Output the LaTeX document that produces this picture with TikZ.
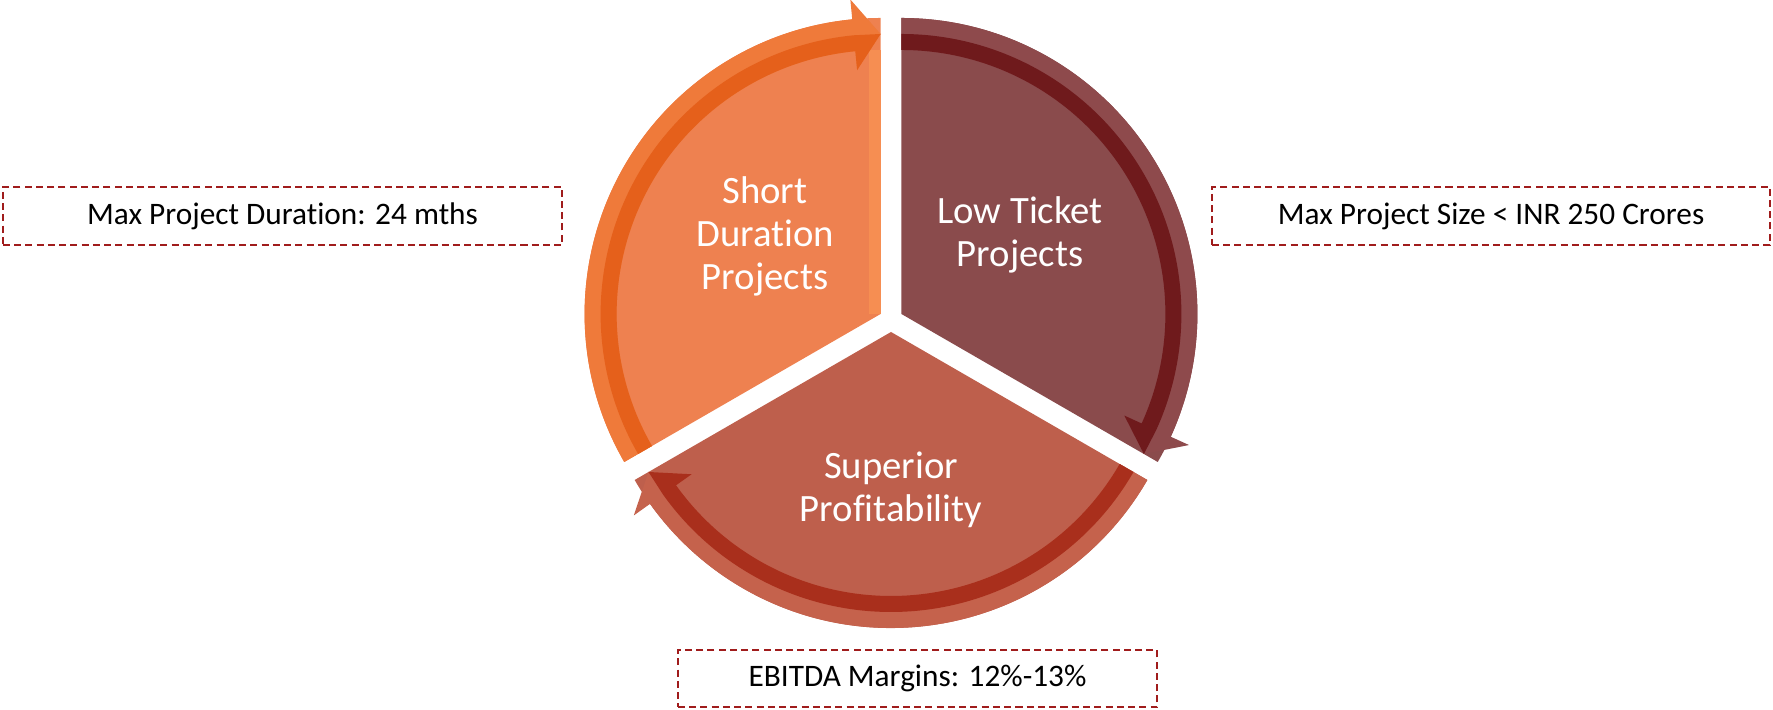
\documentclass[tikz,border=0pt]{standalone}
\usepackage{fontspec}
\setmainfont{Carlito}[Ligatures=NoCommon]

\definecolor{orgslice}{HTML}{EE8150}
\definecolor{orglight}{HTML}{F68E52}
\definecolor{orgarrow}{HTML}{EF7A3A}
\definecolor{orgdark}{HTML}{E5601B}
\definecolor{marslice}{HTML}{8A4B4C}
\definecolor{mararrow}{HTML}{8E4A4C}
\definecolor{mardark}{HTML}{6F1A1C}
\definecolor{botslice}{HTML}{BE5F4C}
\definecolor{botarrow}{HTML}{C5624C}
\definecolor{botdark}{HTML}{A92F1C}
\definecolor{boxred}{HTML}{A01C1C}

\tikzset{
	infobox/.style={draw=boxred, dash pattern=on 2pt off 1.2pt, line width=0.6pt,
		inner sep=0pt, minimum width=5.59cm, minimum height=0.58cm,
		font=\fontsize{8.9}{10.7}\selectfont},
	segtext/.style={text=white, align=center, font=\fontsize{11}{12.2}\selectfont}
}

\begin{document}
\begin{tikzpicture}[x=0.01cm,y=0.01cm]
	\useasboundingbox (0,0) rectangle (1773,710);
	% short duration slice
	\begin{scope}[shift={(880.6,396)}]
	\fill[orgslice] (0,0)--(210:296) arc[start angle=210,end angle=90,radius=296]--cycle;
	\fill[orglight] (-12,0) rectangle (0,264);
	\fill[orgarrow] (210:296) arc[start angle=210,end angle=95.5,radius=296]--(95.5:316)--(90:280)--(95.5:245)--(95.5:264)
	arc[start angle=95.5,end angle=210,radius=264]--cycle;
	\fill[orgdark] (210:280) arc[start angle=210,end angle=95.5,radius=280]--(90:280)--(95.5:245)--(95.5:264)
	arc[start angle=95.5,end angle=210,radius=264]--cycle;
	\end{scope}
	% low ticket slice
	\begin{scope}[shift={(901.4,396)}]
	\fill[marslice] (0,0)--(90:296) arc[start angle=90,end angle=-30,radius=296]--cycle;
	\fill[mararrow] (90:296) arc[start angle=90,end angle=-24.5,radius=296]--(-24.5:316)--(-30:280)--(-24.5:245)--(-24.5:264)
	arc[start angle=-24.5,end angle=90,radius=264]--cycle;
	\fill[mardark] (90:280) arc[start angle=90,end angle=-24.5,radius=280]--(-30:280)--(-24.5:245)--(-24.5:264)
	arc[start angle=-24.5,end angle=90,radius=264]--cycle;
	\end{scope}
	% superior profitability slice
	\begin{scope}[shift={(891,378)}]
	\fill[botslice] (0,0)--(-30:296) arc[start angle=-30,end angle=-150,radius=296]--cycle;
	\fill[botarrow] (-30:296) arc[start angle=-30,end angle=-144.5,radius=296]--(-144.5:316)--(-150:280)--(-144.5:245)--(-144.5:264)
	arc[start angle=-144.5,end angle=-30,radius=264]--cycle;
	\fill[botdark] (-30:280) arc[start angle=-30,end angle=-144.5,radius=280]--(-150:280)--(-144.5:245)--(-144.5:264)
	arc[start angle=-144.5,end angle=-30,radius=264]--cycle;
	\end{scope}

	\node[segtext] (short) at (765,474) {Short\\Duration\\Projects};
	\node[segtext] (lowticket) at (1020,475) {Low Ticket\\Projects};
	\node[segtext] (superior) at (891,220) {Superior\\Profitability};

	\node[infobox] (duration) at (282.5,494) {Max Project Duration: 24 mths};
	\node[infobox, minimum width=5.58cm] (size) at (1491,494) {Max Project Size < INR 250 Crores};
	\node[infobox, minimum width=4.79cm, minimum height=0.57cm] (ebitda) at (917.5,31.5) {EBITDA Margins: 12\%-13\%};
\end{tikzpicture}
\end{document}
